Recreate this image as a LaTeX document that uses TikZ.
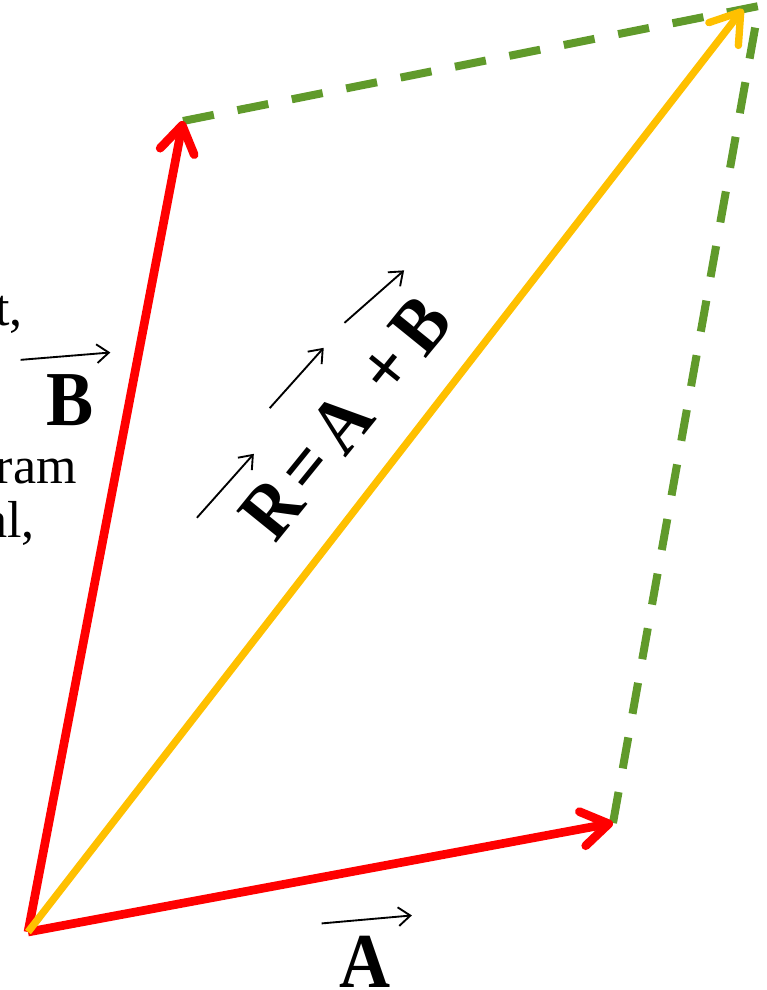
\documentclass[tikz,border=0pt]{standalone}
\usepackage{fontspec}
\setmainfont{Liberation Serif}
\usetikzlibrary{arrows.meta,positioning}
\definecolor{vecred}{RGB}{255,0,0}
\definecolor{resgold}{RGB}{255,192,0}
\definecolor{dashgreen}{RGB}{96,154,43}
\newcommand{\tallbf}[1]{\scalebox{1}[1.1]{#1}}
\tikzset{
  vecline/.style={vecred,line width=6.5pt,-{Straight Barb[length=20pt,width=26pt,round]}},
  resline/.style={resgold,line width=5.5pt,-{Straight Barb[length=21pt,width=28pt,round]}},
  compline/.style={dashgreen,line width=6pt,dash pattern=on 23.6pt off 18pt},
  biglbl/.style={font=\fontsize{53}{60}\selectfont\bfseries,inner sep=0pt,anchor=base west},
  sidetxt/.style={font=\fontsize{39}{46}\selectfont,inner sep=0pt,anchor=base east},
  ovec/.style={black,line width=1.4pt,-{Straight Barb[length=9pt,width=14pt]}},
}

\begin{document}
\begin{tikzpicture}[x=0.75pt,y=-0.75pt]
  \useasboundingbox (0,0) rectangle (767,990);
  % Tail and tips, in pixels of the slide.
  \coordinate (O) at (28,932);
  \coordinate (Atip) at (613,823);
  \coordinate (Btip) at (183,121);
  \coordinate (Rtip) at (743,9);
  \coordinate (C) at (759,6);

  % Left text, cut off by the slide edge.
  \node[sidetxt] (txtT) at (23,325) {t,};
  \node[sidetxt] (txtRam) at (77,483) {ram};
  \node[sidetxt] (txtAl) at (35,537) {al,};

  % Completing the parallelogram.
  \draw[compline] (Btip) -- (C);
  \draw[compline] (Atip) -- (C);

  % The two vectors and their resultant.
  \draw[vecline] (O) -- (Atip);
  \draw[vecline] (O) -- (Btip);
  \draw[resline] (O) -- (Rtip);

  % Vector labels.
  \node[biglbl] (labB) at (46,425) {\tallbf{B}};
  \draw[ovec] ([xshift=-19pt,yshift=10.5pt]labB.north west) -- ([xshift=12.5pt,yshift=16pt]labB.north east);
  \node[biglbl] (labA) at (339,987) {\tallbf{A}};
  \draw[ovec] ([xshift=-13pt,yshift=9pt]labA.north west) -- ([xshift=16pt,yshift=15pt]labA.north east);

  % Resultant label along the diagonal.
  \begin{scope}[shift={(275,545)},rotate=51,transform shape]
    \node[biglbl] (rR) at (0,0) {\tallbf{R}};
    \node[biglbl] (rEq) at (60,0) {\tallbf{=}};
    \node[biglbl] (rA) at (111,0) {\tallbf{A}};
    \node[biglbl] (rPlus) at (186,0) {\tallbf{+}};
    \node[biglbl] (rB) at (239,0) {\tallbf{B}};
    \draw[ovec] ([xshift=-21pt,yshift=20pt]rR.north west) -- ([xshift=4.5pt,yshift=17pt]rR.north east);
    \draw[ovec] ([xshift=-6pt,yshift=29pt]rA.north west) -- ([xshift=16pt,yshift=26pt]rA.north east);
    \draw[ovec] ([xshift=-17pt,yshift=26pt]rB.north west) -- ([xshift=6pt,yshift=16pt]rB.north east);
  \end{scope}
\end{tikzpicture}
\end{document}
